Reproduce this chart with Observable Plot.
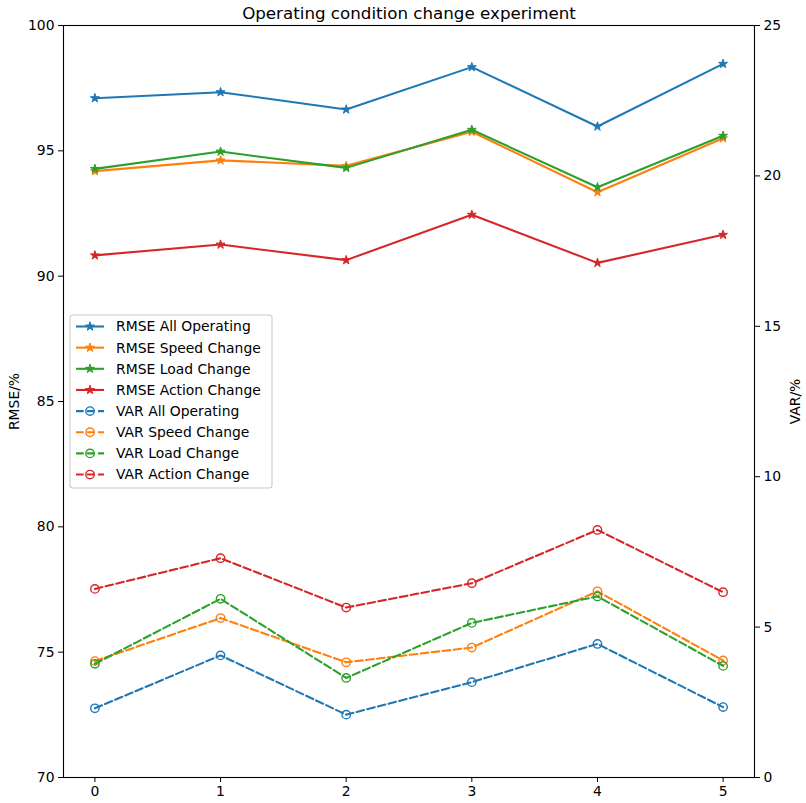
<!DOCTYPE html>
<html>
<head>
<meta charset="utf-8">
<script src="https://cdn.jsdelivr.net/npm/d3@7"></script>
<script src="https://cdn.jsdelivr.net/npm/@observablehq/plot@0.6"></script>
<style>
  html, body { margin: 0; padding: 0; background: white; }
</style>
</head>
<body>
<div id="chart"></div>
<script>
const title = "Operating condition change experiment";
const xs = [0, 1, 2, 3, 4, 5];
const xTicks = [0, 1, 2, 3, 4, 5];
const rmseTicks = [70, 75, 80, 85, 90, 95, 100];
const varTicks = [0, 5, 10, 15, 20, 25];

const rmseAll    = [97.10, 97.34, 96.65, 98.34, 95.97, 98.47];
const rmseSpeed  = [94.19, 94.62, 94.40, 95.76, 93.35, 95.50];
const rmseLoad   = [94.28, 94.97, 94.32, 95.84, 93.55, 95.60];
const rmseAction = [90.83, 91.26, 90.64, 92.45, 90.53, 91.65];

const varAll    = [2.30, 4.06, 2.09, 3.17, 4.44, 2.34];
const varSpeed  = [3.87, 5.30, 3.83, 4.32, 6.19, 3.89];
const varLoad   = [3.78, 5.94, 3.31, 5.14, 6.02, 3.71];
const varAction = [6.27, 7.29, 5.65, 6.46, 8.23, 6.16];

const seriesNames = ["All Operating", "Speed Change", "Load Change", "Action Change"];
const colors = ["#1f77b4", "#ff7f0e", "#2ca02c", "#d62728"];

// map VAR (0..25) onto RMSE scale (70..100)
const rmseDomain = [70, 100];
const varDomain = [0, 25];
const toLeft = v => rmseDomain[0] + (v - varDomain[0]) * (rmseDomain[1] - rmseDomain[0]) / (varDomain[1] - varDomain[0]);
const toRight = y => varDomain[0] + (y - rmseDomain[0]) * (varDomain[1] - varDomain[0]) / (rmseDomain[1] - rmseDomain[0]);

const rmseSeries = [rmseAll, rmseSpeed, rmseLoad, rmseAction];
const varSeries = [varAll, varSpeed, varLoad, varAction];

const marks = [];
rmseSeries.forEach((vals, k) => {
  const data = xs.map((x, i) => ({x, y: vals[i]}));
  marks.push(Plot.line(data, {x: "x", y: "y", stroke: colors[k], strokeWidth: 2.08}));
  marks.push(Plot.dot(data, {x: "x", y: "y", symbol: "star", r: 2.8, fill: colors[k], stroke: colors[k], strokeWidth: 1}));
});
varSeries.forEach((vals, k) => {
  const data = xs.map((x, i) => ({x, y: toLeft(vals[i])}));
  marks.push(Plot.line(data, {x: "x", y: "y", stroke: colors[k], strokeWidth: 2.08, strokeDasharray: "7.7,3.3"}));
  marks.push(Plot.dot(data, {x: "x", y: "y", r: 4.2, fill: "none", stroke: colors[k], strokeWidth: 1.4}));
});

const svg = Plot.plot({
  width: 806,
  height: 803,
  marginTop: 25,
  marginBottom: 26,
  marginLeft: 63,
  marginRight: 52,
  style: {fontFamily: "DejaVu Sans", fontSize: "13.9px", background: "white", color: "black"},
  x: {domain: [-0.25, 5.25], label: null},
  y: {domain: rmseDomain, label: null},
  marks: [
    ...marks,
    Plot.frame({stroke: "black", strokeWidth: 1.1}),
    Plot.axisX({ticks: xTicks, tickSize: 5, tickPadding: 4, tickFormat: d => String(d), label: null, fontSize: 13.9}),
    Plot.axisY({ticks: rmseTicks, tickSize: 5, tickPadding: 4, tickFormat: d => String(d), label: null, fontSize: 13.9}),
    Plot.axisY({anchor: "right", ticks: varTicks.map(toLeft), tickSize: 5, tickPadding: 4,
                tickFormat: d => String(Math.round(toRight(d))), label: null, fontSize: 13.9}),
    Plot.text([title], {frameAnchor: "top", dy: -7, lineAnchor: "bottom", textAnchor: "middle", fontSize: 16.7}),
    Plot.text(["RMSE/%"], {frameAnchor: "left", dx: -49, rotate: -90, textAnchor: "middle", lineAnchor: "middle", fontSize: 13.9}),
    Plot.text(["VAR/%"], {frameAnchor: "right", dx: 41, rotate: -90, textAnchor: "middle", lineAnchor: "middle", fontSize: 13.9})
  ]
});

// legend (matplotlib-style, center-left inside the axes)
const lg = d3.select(svg).append("g")
  .attr("font-family", "DejaVu Sans")
  .attr("font-size", "13.9px")
  .attr("text-anchor", "start");
lg.append("rect")
  .attr("x", 70).attr("y", 315).attr("width", 202).attr("height", 173)
  .attr("rx", 3).attr("fill", "white").attr("fill-opacity", 0.8)
  .attr("stroke", "#cccccc").attr("stroke-width", 1.1);
const entries = [];
seriesNames.forEach((n, k) => entries.push({label: "RMSE " + n, color: colors[k], type: "star"}));
seriesNames.forEach((n, k) => entries.push({label: "VAR " + n, color: colors[k], type: "circle"}));
const starPath = d3.symbol(d3.symbolStar, Math.PI * 2.8 * 2.8)();
entries.forEach((e, i) => {
  const cy = 326.5 + i * 21.15;
  const g = lg.append("g");
  g.append("line").attr("x1", 76).attr("x2", 104).attr("y1", cy).attr("y2", cy)
    .attr("stroke", e.color).attr("stroke-width", 2.08)
    .attr("stroke-dasharray", e.type === "circle" ? "7.7,3.3" : null);
  if (e.type === "star") {
    g.append("path").attr("d", starPath).attr("transform", `translate(90,${cy})`)
      .attr("fill", e.color).attr("stroke", e.color).attr("stroke-width", 1);
  } else {
    g.append("circle").attr("cx", 90).attr("cy", cy).attr("r", 4.2)
      .attr("fill", "none").attr("stroke", e.color).attr("stroke-width", 1.4);
  }
  g.append("text").attr("x", 116).attr("y", cy).attr("dy", "0.35em")
    .attr("text-anchor", "start").attr("fill", "black").text(e.label);
});

document.getElementById("chart").appendChild(svg);
</script>
</body>
</html>
